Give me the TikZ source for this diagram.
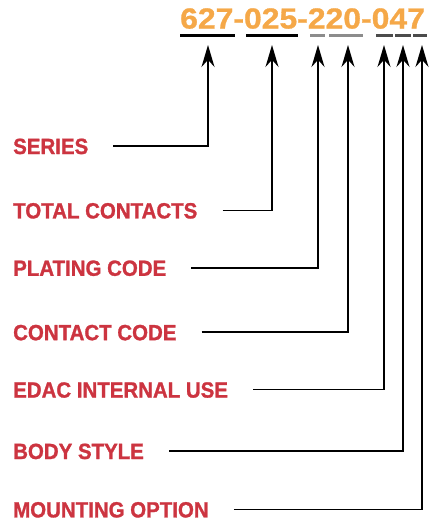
\documentclass[tikz,border=0pt]{standalone}
\usepackage{fontspec}
\usepackage{xcolor}
\usepackage{tikz}
\usetikzlibrary{positioning,arrows.meta}
\newfontfamily\lblfont[FakeStretch=0.93,FakeBold=1.2]{Liberation Sans}
\newfontfamily\partfont[FakeStretch=1.1,FakeBold=1]{Liberation Sans}
\definecolor{partorange}{RGB}{245,168,72}
\definecolor{lblred}{RGB}{204,52,64}

\begin{document}
\begin{tikzpicture}[
    x=1pt, y=-1pt,
    lbl/.style={anchor=west, inner sep=0pt, text height=16pt, text depth=0pt, font=\lblfont\bfseries\fontsize{22}{22}\selectfont, text=lblred},
    partno/.style={anchor=south west, inner sep=0pt, font=\partfont\bfseries\fontsize{29}{29}\selectfont, text=partorange},
    uline/.style={line width=3pt},
    lead/.style={-{Stealth[length=22pt,width=13pt]}, line width=1.6pt, shorten <=25pt}
]
\useasboundingbox (0,0) rectangle (434,522);
% Part number
\node[partno] (pn) at (180,29) {627-025-220-047};
% Underlines
\draw[uline] (180,35) -- (235,35);
\draw[uline] (246,35) -- (298,35);
\draw[uline, black!45] (310,35) -- (325,35);
\draw[uline, black!45] (329,35) -- (363,35);
\draw[uline, black!70] (376,35) -- (393,35);
\draw[uline, black!70] (395,35) -- (411,35);
\draw[uline, black!70] (413,35) -- (427,35);
% Arrow tips
\coordinate (tser) at (208,45);
\coordinate (ttot) at (272,45);
\coordinate (tplt) at (318,45);
\coordinate (tcnt) at (348,45);
\coordinate (tedac) at (384,45);
\coordinate (tbody) at (403,45);
\coordinate (tmnt) at (422,45);
% Labels
\node[lbl] (ser) at (13,146) {SERIES};
\node[lbl, below=48pt of ser.south west, anchor=north west] (tot) {TOTAL CONTACTS};
\node[lbl, below=41pt of tot.south west, anchor=north west] (plt) {PLATING CODE};
\node[lbl, below=48pt of plt.south west, anchor=north west] (cnt) {CONTACT CODE};
\node[lbl, below=41pt of cnt.south west, anchor=north west] (edac) {EDAC INTERNAL USE};
\node[lbl, below=45pt of edac.south west, anchor=north west] (body) {BODY STYLE};
\node[lbl, below=42pt of body.south west, anchor=north west] (mnt) {MOUNTING OPTION};
% Leaders
\draw[lead] (ser.east) -| (tser);
\draw[lead] (tot.east) -| (ttot);
\draw[lead] (plt.east) -| (tplt);
\draw[lead] (cnt.east) -| (tcnt);
\draw[lead] (edac.east) -| (tedac);
\draw[lead] (body.east) -| (tbody);
\draw[lead] (mnt.east) -| (tmnt);
\end{tikzpicture}
\end{document}
